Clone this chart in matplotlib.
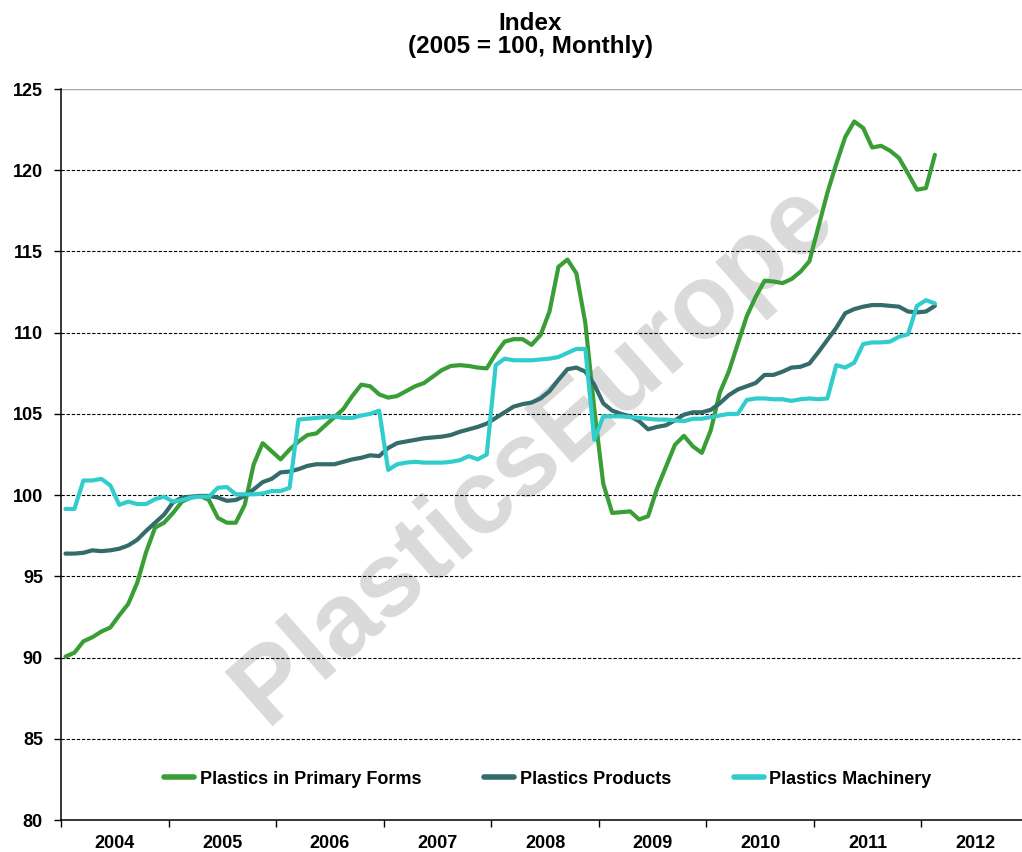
import matplotlib
matplotlib.use("Agg")
import matplotlib.pyplot as plt
from matplotlib.lines import Line2D
import numpy as np

plt.rcParams.update({
    "font.family": ["Liberation Sans", "DejaVu Sans"],
    "font.weight": "bold",
    "font.size": 13,
})

# -- palette --
GREEN   = "#3A9E36"
TEAL_D  = "#346B6B"
CYAN    = "#33CCCC"
WM_GRAY = "#DADADA"
GRID_TOP = "#A6A6A6"

# -- data: monthly index, Jan 2004 .. Feb 2012 --
years = ["2004", "2005", "2006", "2007", "2008", "2009", "2010", "2011", "2012"]

primary_forms = [
    90.06, 90.3, 91.0, 91.25, 91.6, 91.85, 92.6, 93.3, 94.6, 96.5, 98.0, 98.3,
    98.9, 99.6, 99.85, 99.95, 99.7, 98.6, 98.3, 98.3, 99.4, 101.9, 103.2, 102.7,
    102.2, 102.8, 103.3, 103.7, 103.8, 104.3, 104.8, 105.3, 106.1, 106.8, 106.7, 106.2,
    106.0, 106.1, 106.4, 106.7, 106.9, 107.3, 107.7, 107.95, 108.0, 107.95, 107.85, 107.8,
    108.7, 109.45, 109.6, 109.6, 109.25, 109.85, 111.3, 114.05, 114.5, 113.65, 110.6, 105.3,
    100.7, 98.9, 98.95, 99.0, 98.5, 98.7, 100.4, 101.75, 103.1, 103.65, 103.0, 102.6,
    104.0, 106.3, 107.6, 109.3, 111.0, 112.2, 113.2, 113.15, 113.05, 113.3, 113.75, 114.4,
    116.5, 118.6, 120.4, 122.05, 123.0, 122.6, 121.4, 121.5, 121.2, 120.75, 119.8, 118.8,
    118.9, 120.95,
]

products = [
    96.4, 96.4, 96.45, 96.6, 96.55, 96.6, 96.7, 96.9, 97.25, 97.8, 98.3, 98.8,
    99.55, 99.85, 99.9, 99.95, 99.95, 99.85, 99.65, 99.7, 99.95, 100.35, 100.8, 101.0,
    101.4, 101.45, 101.6, 101.8, 101.9, 101.9, 101.9, 102.05, 102.2, 102.3, 102.45, 102.4,
    102.9, 103.2, 103.3, 103.4, 103.5, 103.55, 103.6, 103.7, 103.9, 104.05, 104.2, 104.4,
    104.75, 105.1, 105.45, 105.6, 105.7, 105.95, 106.4, 107.1, 107.75, 107.85, 107.6, 106.8,
    105.65, 105.2, 105.0, 104.85, 104.55, 104.05, 104.2, 104.3, 104.6, 104.95, 105.1, 105.1,
    105.25, 105.65, 106.15, 106.5, 106.7, 106.9, 107.4, 107.4, 107.6, 107.85, 107.9, 108.1,
    108.8, 109.55, 110.3, 111.2, 111.45, 111.6, 111.7, 111.7, 111.65, 111.6, 111.3, 111.25,
    111.3, 111.65,
]

machinery = [
    99.15, 99.15, 100.9, 100.9, 101.0, 100.6, 99.4, 99.6, 99.45, 99.45, 99.75, 99.9,
    99.6, 99.7, 99.85, 99.9, 99.9, 100.45, 100.5, 100.05, 100.05, 100.05, 100.1, 100.25,
    100.25, 100.45, 104.65, 104.7, 104.75, 104.8, 104.85, 104.75, 104.75, 104.9, 105.0, 105.2,
    101.55, 101.9, 102.0, 102.05, 102.0, 102.0, 102.0, 102.05, 102.15, 102.4, 102.2, 102.5,
    108.0, 108.4, 108.3, 108.3, 108.3, 108.35, 108.4, 108.5, 108.75, 109.0, 109.0, 103.4,
    104.85, 104.85, 104.85, 104.8, 104.75, 104.7, 104.65, 104.65, 104.6, 104.55, 104.7, 104.7,
    104.8, 104.9, 105.0, 105.0, 105.85, 105.95, 105.95, 105.9, 105.9, 105.8, 105.9, 105.95,
    105.9, 105.95, 108.0, 107.85, 108.15, 109.3, 109.4, 109.4, 109.45, 109.75, 109.9, 111.65,
    112.0, 111.8,
]

series = [
    ("Plastics in Primary Forms", primary_forms, GREEN),
    ("Plastics Products", products, TEAL_D),
    ("Plastics Machinery", machinery, CYAN),
]

W, H = 1022, 852
fig = plt.figure(figsize=(W / 100, H / 100), dpi=100)
fig.patch.set_facecolor("white")
# axes runs a little past the right edge of the picture, as in the source
ax = fig.add_axes([61 / W, 32 / H, 968 / W, 731 / H])
ax.set_xlim(0, 108)
ax.set_ylim(80, 125)

# horizontal grid
yticks = list(range(80, 126, 5))
for yv in yticks[1:-1]:
    ax.axhline(yv, color="black", lw=0.8, ls=(0, (3, 1.6)), zorder=1)
ax.axhline(yticks[-1], color=GRID_TOP, lw=1.0, zorder=1)

# watermark, anchored at the baseline start of the "P"
ax.text(266 / W, 1 - 726 / H, "PlasticsEurope", transform=fig.transFigure,
        rotation=41.4, rotation_mode="anchor", ha="left", va="baseline",
        fontsize=76, fontweight="bold", color=WM_GRAY, zorder=0.5)

# series
x = np.arange(len(primary_forms)) + 0.5
for label, vals, col in series:
    ax.plot(x, vals, color=col, lw=3.0, label=label, zorder=3,
            solid_joinstyle="round", solid_capstyle="round")

# axes styling
for side in ("top", "right"):
    ax.spines[side].set_visible(False)
for side in ("left", "bottom"):
    ax.spines[side].set_color("black")
    ax.spines[side].set_linewidth(1.1)

ax.set_yticks(yticks)
ax.tick_params(axis="y", direction="out", length=5, width=1, pad=8,
               labelsize=13, colors="black")

ax.set_xticks(np.arange(0, 109, 12))
ax.set_xticklabels([])
ax.set_xticks(np.arange(6, 108, 12), minor=True)
ax.set_xticklabels(years, minor=True)
ax.tick_params(axis="x", which="major", direction="out", length=5, width=1)
ax.tick_params(axis="x", which="minor", length=0, pad=11, labelsize=13)

# legend
handles = [Line2D([0], [0], color=c, lw=4, solid_capstyle="round") for _, _, c in series]
ax.legend(handles, [s[0] for s in series], ncol=3, loc="center",
          bbox_to_anchor=(548 / W, 1 - 779 / H), bbox_transform=fig.transFigure,
          frameon=False, handlelength=1.65, handletextpad=0.3,
          columnspacing=3.5, fontsize=13)

# title
fig.text(530 / W, 1 - 30 / H, "Index", ha="center", va="baseline",
         fontsize=17.5, fontweight="bold")
fig.text(530 / W, 1 - 53 / H, "(2005 = 100, Monthly)", ha="center", va="baseline",
         fontsize=17.5, fontweight="bold")

fig.savefig("out.png", dpi=100)
